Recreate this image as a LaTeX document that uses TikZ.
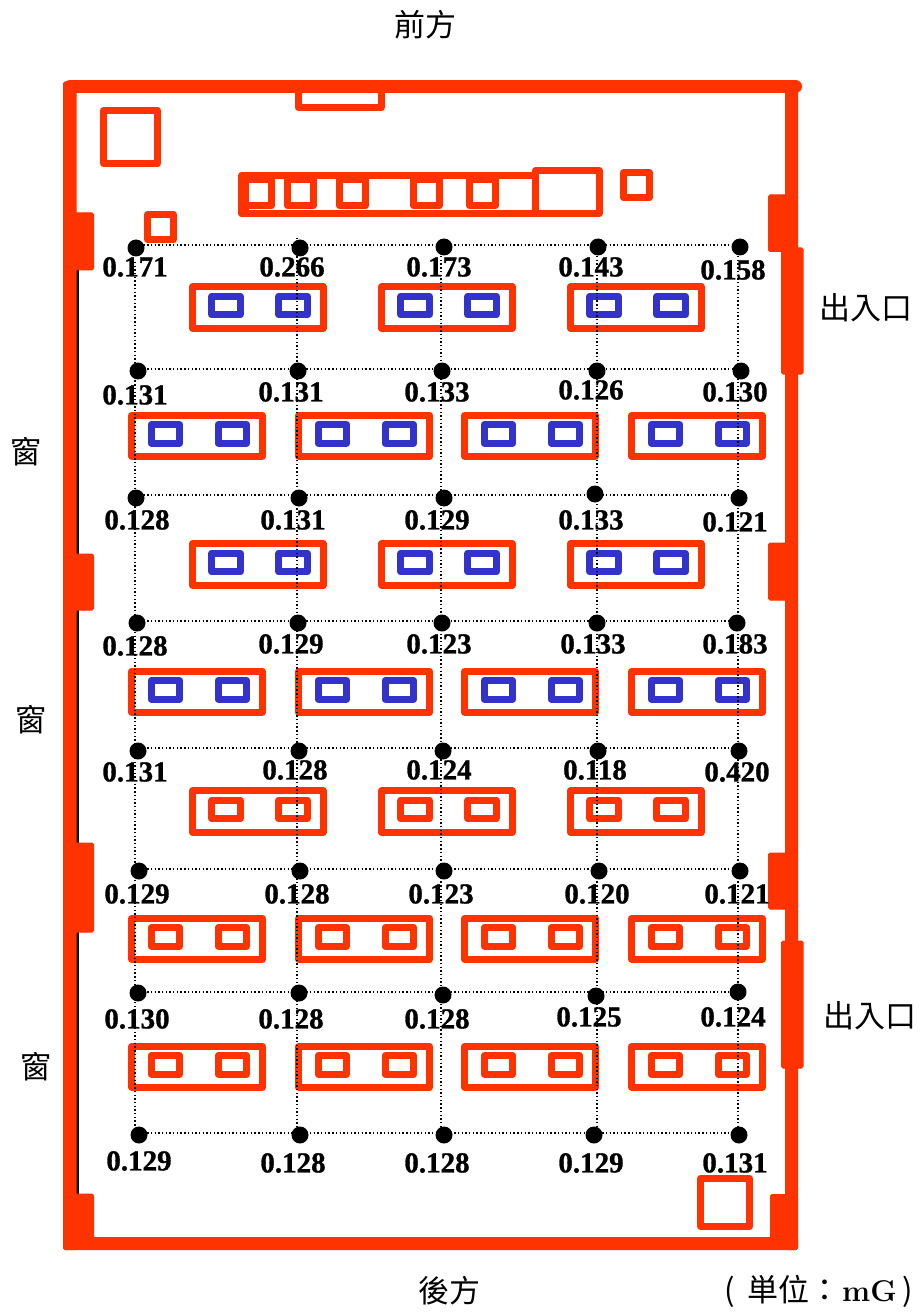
\documentclass[tikz,border=0pt]{standalone}
\usepackage{fontspec}
\newfontfamily\cjkf{Noto Sans CJK TC}
\newfontfamily\valf[BoldFeatures={FakeBold=1}]{Liberation Serif}
\definecolor{wallred}{HTML}{FF3300}
\definecolor{lampblue}{HTML}{3333CC}
\tikzset{
  x=1pt,y=-1pt,
  wall/.style={fill=wallred,draw=wallred,line width=1pt,rounded corners=1.5pt},
  topwall/.style={draw=wallred,line width=13pt,line cap=round},
  redbox/.style={draw=wallred,line width=7pt,line join=round},
  gridline/.style={draw=black,line width=1.2pt,dash pattern=on 1.4pt off 2.3pt},
  dot/.style={circle,fill=black,inner sep=0pt,minimum size=17pt},
  val/.style={font=\valf\bfseries\fontsize{29}{29}\selectfont,inner sep=0pt,text=black},
  cjk/.style={font=\cjkf\fontsize{31}{31}\selectfont,inner sep=0pt,text=black},
}
\begin{document}
\begin{tikzpicture}
\useasboundingbox (0,0) rectangle (921,1313);
% walls
\fill[black] (76,270) rectangle (79,1195);
\path[wall] (63.5,82) rectangle (76,1249.5);
\path[wall] (63.5,1237.5) rectangle (797.5,1249.5);
\path[wall] (785.5,85) rectangle (797.5,1249.5);
\coordinate (topl) at (70,86.5);
\coordinate (topr) at (795.5,86.5);
\draw[topwall] (topl) -- (topr);
\foreach \a/\b in {213/270,554/610,843/932,1194/1240}
  \path[wall] (70,\a) rectangle (93.5,\b);
\foreach \a/\b in {195/251.5,543/600,853/909}
  \path[wall] (768.5,\a) rectangle (790,\b);
\path[wall] (770.5,1194.5) rectangle (790,1240);
\foreach \a/\b in {248/374,941/1068}
  \path[wall] (781.5,\a) rectangle (803,\b);
% furniture
\draw[redbox] (298.5,90) rectangle (381,107.5);
\draw[redbox] (103.5,110.5) rectangle (157.5,163.5);
\draw[redbox] (241.5,175.5) rectangle (535.5,214);
\draw[redbox] (535.5,170.5) rectangle (599.5,213.5);
\foreach \a in {245.5,287.5,339.5,413.5,469.5}
  \draw[redbox] (\a,180) rectangle ++(26,26);
\fill[wallred] (240,175) rectangle (249,212);
\draw[redbox] (147.5,214.5) rectangle (173.5,239.5);
\draw[redbox] (623.5,172.5) rectangle (649.5,198);
\draw[redbox] (700.5,1178.5) rectangle (749.5,1226.5);
% fixtures
\foreach \y/\c in {283.3/lampblue,540.3/lampblue,787.3/wallred}
  \foreach \x in {189,378,567} {
    \draw[redbox] (\x+3.5,\y+3.5) rectangle (\x+134,\y+45);
    \draw[redbox,draw=\c] (\x+22.7,\y+13) rectangle +(28.7,18.5);
    \draw[redbox,draw=\c] (\x+89.7,\y+13) rectangle +(28.7,18.5);
  }
\foreach \y/\c in {412/lampblue,668/lampblue,915/wallred,1043/wallred}
  \foreach \x in {128,295,461,628} {
    \draw[redbox] (\x+3.5,\y+3.5) rectangle (\x+134.5,\y+44);
    \draw[redbox,draw=\c] (\x+23,\y+12.6) rectangle +(28.7,18.5);
    \draw[redbox,draw=\c] (\x+90,\y+12.6) rectangle +(28.7,18.5);
  }
% measuring grid
\foreach \i/\x/\a/\b in {1/135/262/1135,2/297/238/1135,3/441/245/1135,4/597/245/1135,5/738/245/1135} {
  \coordinate (vt\i) at (\x,\a);
  \coordinate (vb\i) at (\x,\b);
  \draw[gridline] (vt\i) -- (vb\i);
}
\foreach \i/\y in {1/245,2/369,3/495,4/621,5/748,6/869,7/992,8/1133} {
  \coordinate (hl\i) at (136,\y);
  \coordinate (hr\i) at (740,\y);
  \draw[gridline] (hl\i) -- (hr\i);
}
% dots
\foreach \r/\a/\ya/\b/\yb/\c/\yc/\d/\yd/\e/\ye in {
 1/136/248/300/248/444/247/598/247/740/247,
 2/138/371/298/371/442/371/597/371/741/371,
 3/136/498/299/498/444/498/595/494/739/498,
 4/137/623/298/623/442/623/597/623/737/623,
 5/138/751/299/751/443/751/598/751/739/751,
 6/139/871/300/871/444/871/599/871/740/871,
 7/138/993/299/993/443/995/596/996/738/992,
 8/139/1135/300/1135/444/1135/594/1135/739/1135} {
  \node[dot] (d\r a) at (\a,\ya) {};
  \node[dot] (d\r b) at (\b,\yb) {};
  \node[dot] (d\r c) at (\c,\yc) {};
  \node[dot] (d\r d) at (\d,\yd) {};
  \node[dot] (d\r e) at (\e,\ye) {};
}
% values
\foreach \n/\x/\y/\t in {
 a1/135/267/0.171,a2/292/267/0.266,a3/439/267/0.173,a4/591/267/0.143,a5/733/270/0.158,
 b1/135/395/0.131,b2/291/392/0.131,b3/437/392/0.133,b4/591/390/0.126,b5/735/392/0.130,
 c1/137/520/0.128,c2/293/520/0.131,c3/437/520/0.129,c4/591/520/0.133,c5/735/522/0.121,
 e1/135/646/0.128,e2/291/644/0.129,e3/439/644/0.123,e4/593/644/0.133,e5/735/644/0.183,
 f1/135/772/0.131,f2/295/770/0.128,f3/439/770/0.124,f4/595/770/0.118,f5/737/772/0.420,
 g1/137/894/0.129,g2/297/894/0.128,g3/441/894/0.123,g4/597/894/0.120,g5/737/894/0.121,
 h1/137/1019/0.130,h2/291/1019/0.128,h3/437/1019/0.128,h4/589/1017/0.125,h5/733/1017/0.124,
 i1/139/1161/0.129,i2/293/1163/0.128,i3/437/1163/0.128,i4/591/1163/0.129,i5/735/1163/0.131}
  \node[val] (v\n) at (\x,\y) {\t};
% captions
\node[cjk] (front) at (425,25) {前方};
\node[cjk] (back) at (449,1291) {後方};
\node[cjk] (win1) at (26,452) {窗};
\node[cjk] (win2) at (31,720) {窗};
\node[cjk] (win3) at (36,1067) {窗};
\node[cjk] (door1) at (866,308) {出入口};
\node[cjk] (door2) at (870,1016) {出入口};
\node[cjk,anchor=base west] (unit) at (724,1301) {\makebox[23pt][l]{(}単位：\hspace{2pt}{\fontspec{Latin Modern Roman}\bfseries\fontsize{30}{30}\selectfont mG}\hspace{6pt})};
\end{tikzpicture}
\end{document}
